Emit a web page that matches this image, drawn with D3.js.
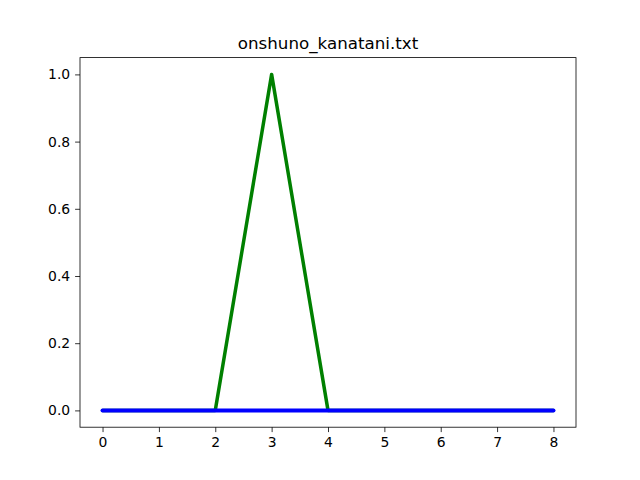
<!DOCTYPE html>
<html lang="en">
  <head>
    <meta charset="utf-8" />
    <title>onshuno_kanatani.txt</title>
    <script src="https://cdn.jsdelivr.net/npm/d3@7"></script>
    <style>
      body {
        margin: 0;
        background: #fff;
      }
      .axis {
        font-family: "DejaVu Sans", sans-serif;
        font-size: 13.9px;
      }
    </style>
  </head>
  <body>
    <svg id="chart"></svg>
    <script>
      const xValues = [0, 1, 2, 3, 4, 5, 6, 7, 8];
      const greenValues = [0, 0, 0, 1, 0, 0, 0, 0, 0];
      const blueValues = [0, 0, 0, 0, 0, 0, 0, 0, 0];
      const xTicks = [0, 1, 2, 3, 4, 5, 6, 7, 8];
      const yTicks = [0, 0.2, 0.4, 0.6, 0.8, 1.0];

      const width = 640;
      const height = 480;
      const margin = { top: 57.6, right: 64, bottom: 52.8, left: 80 };
      const w = width - margin.left - margin.right;
      const h = height - margin.top - margin.bottom;

      const svg = d3.select("#chart").attr("width", width).attr("height", height);
      const g = svg.append("g").attr("transform", `translate(${margin.left},${margin.top})`);

      // matplotlib style 5% margins
      const xscale = d3.scaleLinear().domain([-0.4, 8.4]).range([0, w]);
      const yscale = d3.scaleLinear().domain([-0.05, 1.05]).range([h, 0]);

      const line = d3
        .line()
        .x((d, i) => xscale(xValues[i]))
        .y(d => yscale(d));

      g.append("path")
        .datum(greenValues)
        .attr("d", line)
        .attr("fill", "none")
        .attr("stroke", "green")
        .attr("stroke-width", 3.5)
        .attr("stroke-linejoin", "round")
        .attr("stroke-linecap", "round");

      g.append("path")
        .datum(blueValues)
        .attr("d", line)
        .attr("fill", "none")
        .attr("stroke", "blue")
        .attr("stroke-width", 4)
        .attr("stroke-linecap", "round");

      const xaxis = d3.axisBottom(xscale).tickValues(xTicks).tickFormat(d3.format("d")).tickSize(4.9).tickPadding(4.9);
      const yaxis = d3.axisLeft(yscale).tickValues(yTicks).tickFormat(d3.format(".1f")).tickSize(4.9).tickPadding(4.9);

      const gx = g.append("g").attr("class", "axis").attr("transform", `translate(0,${h})`).call(xaxis);
      const gy = g.append("g").attr("class", "axis").call(yaxis);
      [gx, gy].forEach(a => {
        a.select(".domain").remove();
        a.selectAll("text").attr("fill", "#000");
        a.selectAll("line").attr("stroke", "#000").attr("stroke-width", 0.8);
      });

      // frame
      g.append("rect")
        .attr("width", w)
        .attr("height", h)
        .attr("fill", "none")
        .attr("stroke", "#000")
        .attr("stroke-width", 0.8);

      svg.append("text")
        .attr("x", margin.left + w / 2)
        .attr("y", margin.top - 8.3)
        .attr("text-anchor", "middle")
        .attr("font-family", "DejaVu Sans, sans-serif")
        .attr("font-size", 16.7)
        .text("onshuno_kanatani.txt");
    </script>
  </body>
</html>
